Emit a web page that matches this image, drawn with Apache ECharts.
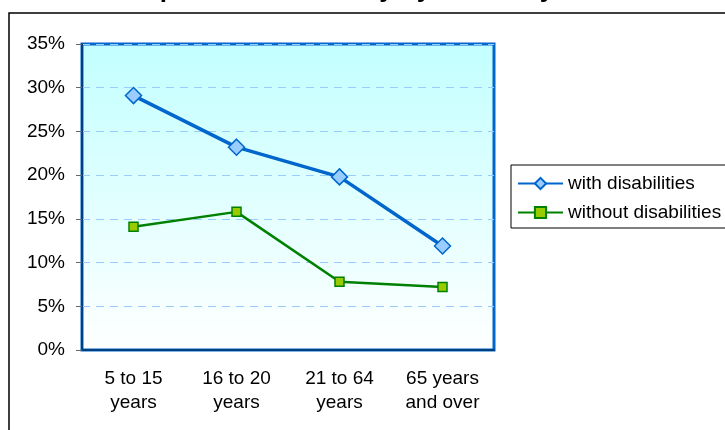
<!DOCTYPE html>
<html>
<head>
<meta charset="utf-8">
<script src="https://cdn.jsdelivr.net/npm/echarts@6/dist/echarts.min.js"></script>
<style>
  html, body { margin: 0; padding: 0; background: #fff; }
  #chart { width: 725px; height: 430px; }
</style>
</head>
<body>
<div id="chart"></div>
<script>
// data
const ageGroups = ['5 to 15\nyears', '16 to 20\nyears', '21 to 64\nyears', '65 years\nand over']
const withDisabilities = [29.1, 23.2, 19.8, 11.9]
const withoutDisabilities = [14.1, 15.8, 7.8, 7.2]
const yTicks = [0, 5, 10, 15, 20, 25, 30, 35]

const font = 'Arial, "Liberation Sans", sans-serif'
const chart = echarts.init(document.getElementById('chart'))

const option = {
  animation: false,
  textStyle: { fontFamily: font },
  // title is cut off at the top in the reference, only its bottom shows
  graphic: [
    {
      type: 'text',
      z: 10,
      style: {
        text: 'Percent of the Total Population in Poverty by Disability Status - US',
        x: 700,
        y: -10,
        align: 'right',
        verticalAlign: 'middle',
        font: 'bold 26px ' + font,
        fill: '#000'
      }
    },
    {
      type: 'rect',
      z: -1,
      shape: { x: 9, y: 13, width: 800, height: 500 },
      style: { fill: 'none', stroke: '#000', lineWidth: 1.5 }
    }
  ],
  grid: {
    left: 82,
    right: 231,
    top: 44,
    bottom: 80,
    show: true,
    borderColor: '#0066CC',
    borderWidth: 3,
    backgroundColor: new echarts.graphic.LinearGradient(0, 0, 0, 1, [
      { offset: 0, color: '#C2FFFF' },
      { offset: 1, color: '#FFFFFF' }
    ])
  },
  legend: {
    orient: 'vertical',
    left: 511,
    top: 165,
    padding: [9, 40, 6, 6],
    itemGap: 10,
    itemWidth: 45,
    itemHeight: 14,
    borderColor: '#000',
    borderWidth: 1,
    textStyle: { fontSize: 19, color: '#000', fontFamily: font }
  },
  xAxis: {
    type: 'category',
    data: ageGroups,
    boundaryGap: true,
    axisLine: { lineStyle: { color: '#003F80', width: 2 } },
    axisTick: { length: 5, lineStyle: { color: '#666' } },
    axisLabel: { color: '#000', fontSize: 19, lineHeight: 24, margin: 17 }
  },
  yAxis: {
    type: 'value',
    min: yTicks[0],
    max: yTicks[yTicks.length - 1],
    interval: 5,
    axisLine: { show: true, lineStyle: { color: '#003F80', width: 2 } },
    axisTick: { show: true, length: 6, lineStyle: { color: '#666' } },
    axisLabel: { color: '#000', fontSize: 19, margin: 17, formatter: '{value}%' },
    splitLine: { lineStyle: { color: '#99CCFF', type: [8, 6], width: 1 } }
  },
  series: [
    {
      name: 'with disabilities',
      type: 'line',
      data: withDisabilities,
      symbol: 'diamond',
      symbolSize: 16,
      lineStyle: { color: '#0066CC', width: 3.5 },
      itemStyle: { color: '#99CCFF', borderColor: '#0066CC', borderWidth: 1.5 },
      z: 3
    },
    {
      name: 'without disabilities',
      type: 'line',
      data: withoutDisabilities,
      symbol: 'rect',
      symbolSize: 9,
      lineStyle: { color: '#008000', width: 2.5 },
      itemStyle: { color: '#99CC00', borderColor: '#008000', borderWidth: 1.5 },
      z: 2
    }
  ]
}

chart.setOption(option)
</script>
</body>
</html>
